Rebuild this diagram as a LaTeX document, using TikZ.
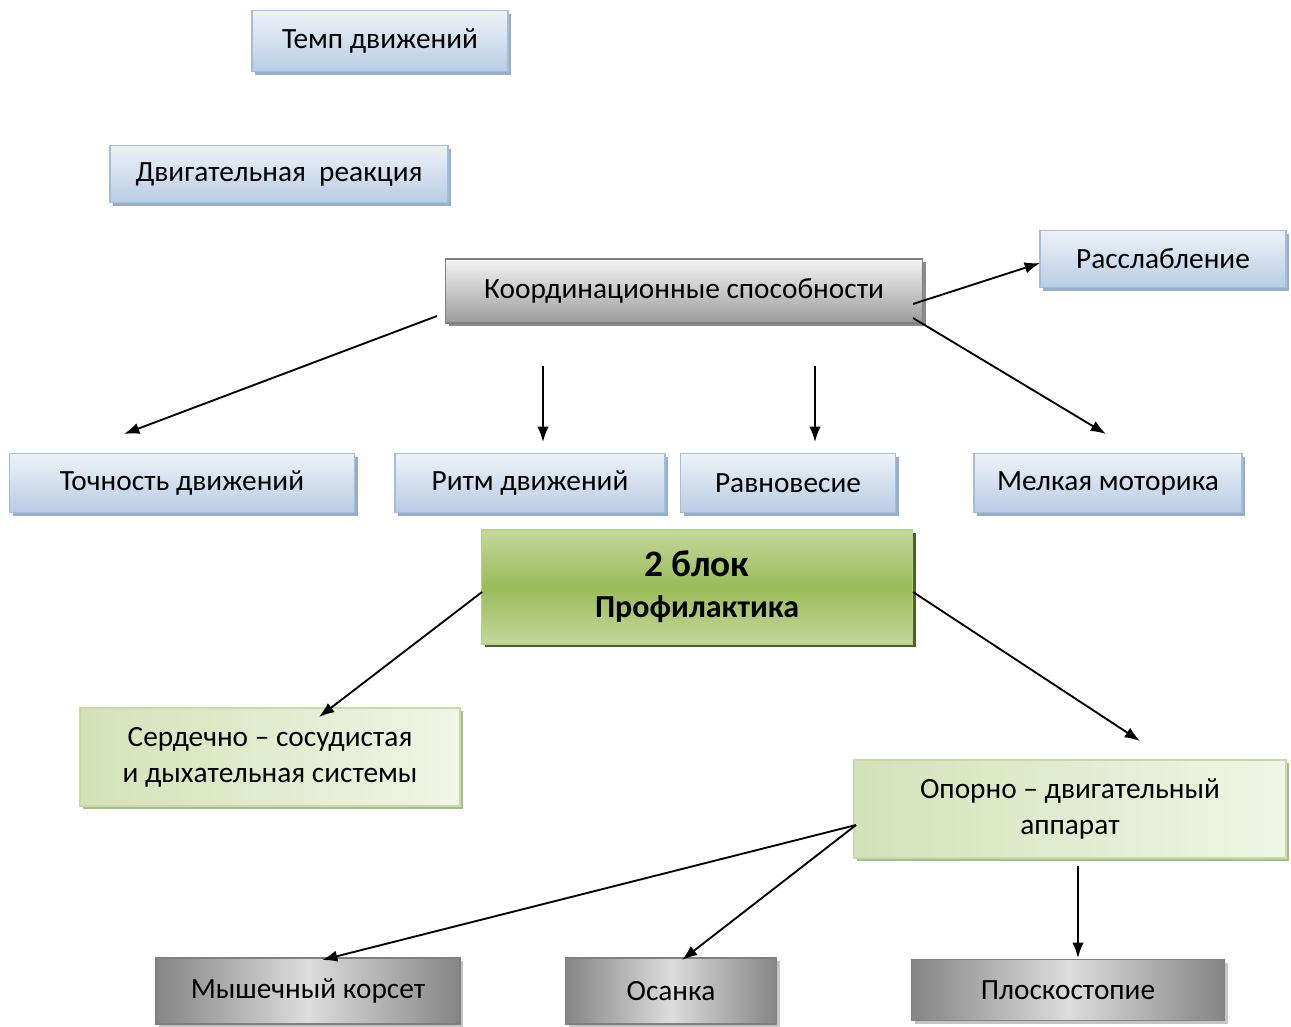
\documentclass[tikz,border=0pt]{standalone}
\usepackage{fontspec}
\setmainfont{Carlito}
\usetikzlibrary{positioning}
\usetikzlibrary{arrows.meta, shadows}

\definecolor{boxblueline}{HTML}{A3BDDD}
\definecolor{boxbluetop}{HTML}{EEF2F8}
\definecolor{boxbluebottom}{HTML}{B8CCE4}
\definecolor{boxblueshadow}{HTML}{9AADC8}
\definecolor{boxgrayline}{HTML}{7F7F7F}
\definecolor{boxgraytop}{HTML}{F4F4F4}
\definecolor{boxgraybottom}{HTML}{9C9C9C}
\definecolor{boxgrayshadow}{HTML}{8C8C8C}
\definecolor{boxgreenline}{HTML}{B9CF8E}
\definecolor{boxgreenedge}{HTML}{C4D79D}
\definecolor{boxgreenmid}{HTML}{9BBB59}
\definecolor{boxgreenshadow}{HTML}{4F6228}
\definecolor{boxpaleleft}{HTML}{D4E2B8}
\definecolor{boxpaleright}{HTML}{F0F5E6}
\definecolor{boxpaleline}{HTML}{C9DAA8}
\definecolor{boxpaleshadow}{HTML}{A9BC8C}

\begin{document}
\begin{tikzpicture}[x=0.75pt, y=-0.75pt,
            >={Latex[length=11.5pt,width=8.5pt]},
            every node/.style={font=\fontsize{22}{26}\selectfont, text=black},
            bluesquarednode/.style={rectangle, draw=boxblueline, line width=1.2pt, top color=boxbluetop, bottom color=boxbluebottom, drop shadow={shadow xshift=2.5pt, shadow yshift=-2.5pt, opacity=1, fill=boxblueshadow}},
            graysquarednode/.style={rectangle, draw=boxgrayline, line width=1.2pt, top color=boxgraytop, bottom color=boxgraybottom, drop shadow={shadow xshift=2.5pt, shadow yshift=-2.5pt, opacity=1, fill=boxgrayshadow}},
            greensquarednode/.style={rectangle, draw=boxgreenline, line width=1.2pt, top color=boxgreenedge, bottom color=boxgreenedge, middle color=boxgreenmid, drop shadow={shadow xshift=2.5pt, shadow yshift=-2.5pt, opacity=1, fill=boxgreenshadow}},
            palesquarednode/.style={rectangle, draw=boxpaleline, line width=1.2pt, left color=boxpaleleft, right color=boxpaleright, align=center, drop shadow={shadow xshift=2.5pt, shadow yshift=-2.5pt, opacity=1, fill=boxpaleshadow}},
            darksquarednode/.style={rectangle, draw=boxgrayline, line width=1.2pt, left color=boxgraybottom!85!black, right color=boxgraybottom!85!black, middle color=boxgraytop!80!gray, drop shadow={shadow xshift=2.5pt, shadow yshift=-2.5pt, opacity=1, fill=boxgraytop!60!gray}},
            arrowline/.style={->, line width=1.4pt},
            ]
            \useasboundingbox (0,0) rectangle (1291,1027);
            % upper part
            \node[bluesquarednode, minimum width=192pt, minimum height=45.75pt] (tempo) at (380,41) {Темп движений};
            \node[bluesquarednode, minimum width=253.5pt, minimum height=42.75pt] (reaction) at (279,174) {Двигательная\ \ реакция};
            \node[graysquarednode, minimum width=357.75pt, minimum height=48pt] (coord) at (684,291) {Координационные способности};
            \node[bluesquarednode, minimum width=184.5pt, minimum height=42.75pt] (relax) at (1163,259) {Расслабление};
            \node[bluesquarednode, minimum width=258.75pt, minimum height=44.25pt] (accuracy) at (182,483) {Точность движений};
            \node[bluesquarednode, minimum width=202.5pt, minimum height=44.25pt] (rhythm) at (530,483) {Ритм движений};
            \node[bluesquarednode, minimum width=161.25pt, minimum height=44.25pt] (balance) at (788,483) {Равновесие};
            \node[bluesquarednode, minimum width=201pt, minimum height=44.25pt] (motor) at (1108,483) {Мелкая моторика};
            % lower part
            \node[greensquarednode, minimum width=323.25pt, minimum height=85.5pt, align=center, font=\bfseries\fontsize{24}{31}\selectfont] (block) at (697,587) {{\fontsize{28}{31}\selectfont 2 блок}\\Профилактика};
            \node[palesquarednode, minimum width=285pt, minimum height=73.5pt, font=\fontsize{22}{27}\selectfont] (heart) at (270,757) {Сердечно – сосудистая\\и дыхательная системы};
            \node[palesquarednode, minimum width=324pt, minimum height=73.5pt, font=\fontsize{22}{27}\selectfont] (support) at (1070,809) {Опорно – двигательный\\аппарат};
            \node[darksquarednode, minimum width=228pt, minimum height=49.5pt] (corset) at (308,991) {Мышечный корсет};
            \node[darksquarednode, minimum width=158.25pt, minimum height=49.5pt] (posture) at (671,991) {Осанка};
            \node[darksquarednode, minimum width=234.75pt, minimum height=45.75pt] (flatfoot) at (1068,990) {Плоскостопие};
            % free ends of the connectors
            \coordinate (coordR1) at (913,304);
            \coordinate (coordR2) at (913,318);
            \coordinate (coordL) at (437,316);
            \coordinate (relaxIn) at (1040,263);
            \coordinate (motorIn) at (1106,434);
            \coordinate (accuracyIn) at (124,434);
            \coordinate (rhythmOut) at (543,366);
            \coordinate (rhythmIn) at (543,442);
            \coordinate (balanceOut) at (815,366);
            \coordinate (balanceIn) at (815,442);
            \coordinate (blockL) at (482,592);
            \coordinate (blockR) at (913,592);
            \coordinate (heartIn) at (319,717);
            \coordinate (supportIn) at (1140,741);
            \coordinate (supportL) at (856,825);
            \coordinate (corsetIn) at (322,960);
            \coordinate (postureIn) at (682,960);
            \coordinate (supportOut) at (1078,866);
            \coordinate (flatfootIn) at (1078,958);
            \draw[arrowline] (coordR1) -- (relaxIn);
            \draw[arrowline] (coordR2) -- (motorIn);
            \draw[arrowline] (coordL) -- (accuracyIn);
            \draw[arrowline] (rhythmOut) -- (rhythmIn);
            \draw[arrowline] (balanceOut) -- (balanceIn);
            \draw[arrowline] (blockL) -- (heartIn);
            \draw[arrowline] (blockR) -- (supportIn);
            \draw[arrowline] (supportL) -- (corsetIn);
            \draw[arrowline] (supportL) -- (postureIn);
            \draw[arrowline] (supportOut) -- (flatfootIn);
        \end{tikzpicture}
\end{document}
